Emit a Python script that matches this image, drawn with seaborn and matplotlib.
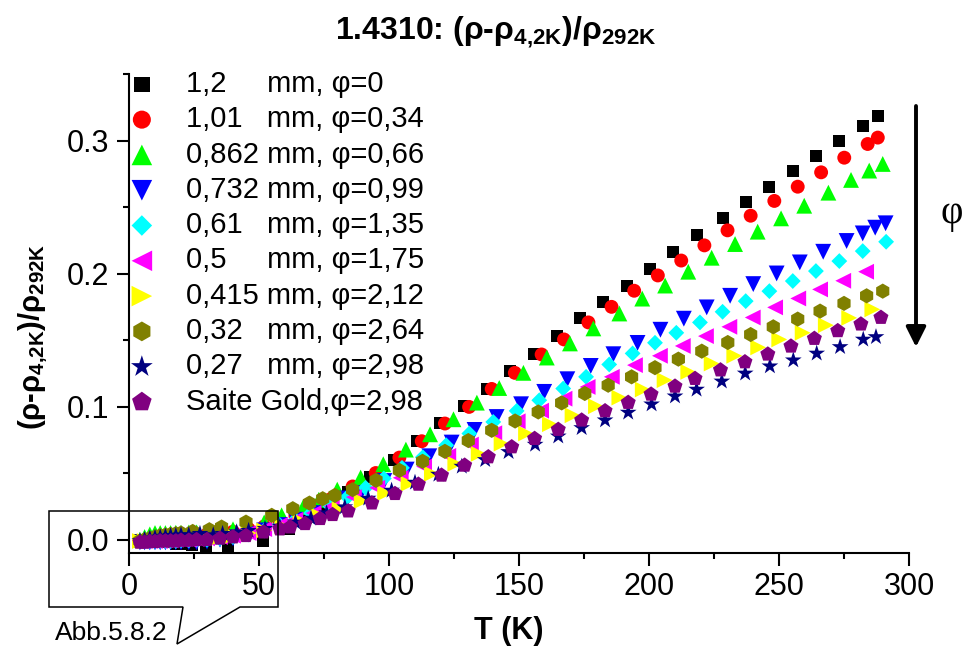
import matplotlib
matplotlib.use("Agg")
import matplotlib.pyplot as plt
from matplotlib.patches import Polygon
from matplotlib.ticker import MultipleLocator, FormatStrFormatter
import seaborn as sns

sns.set_style("ticks")
plt.rcParams['font.family'] = ['Liberation Sans', 'DejaVu Sans']
plt.rcParams['mathtext.fontset'] = 'custom'
plt.rcParams['mathtext.rm'] = 'Liberation Sans:bold'
plt.rcParams['mathtext.it'] = 'Liberation Sans:bold'
plt.rcParams['mathtext.bf'] = 'Liberation Sans:bold'
for key in ("text.color", "axes.labelcolor", "xtick.color", "ytick.color", "axes.edgecolor"):
    plt.rcParams[key] = "black"

# ---- data: relative resistivity increase vs temperature ----
labels = [
    "1,2     mm, φ=0",
    "1,01   mm, φ=0,34",
    "0,862 mm, φ=0,66",
    "0,732 mm, φ=0,99",
    "0,61   mm, φ=1,35",
    "0,5     mm, φ=1,75",
    "0,415 mm, φ=2,12",
    "0,32   mm, φ=2,64",
    "0,27   mm, φ=2,98",
    "Saite Gold,φ=2,98",
]

T_12 = [4.2, 6, 8, 10, 12, 14, 16, 18, 20, 24.4, 29.5, 38.2, 51.4, 61.5, 68, 75, 84.3, 92.7,
        101.8, 110.6, 119.6, 128.8, 137.6, 146.5, 155.8, 164.5, 173.5, 182.4, 191.4, 200.4,
        209.3, 218.3, 228.3, 237.3, 246.3, 255.3, 264.2, 273.2, 282.2, 288.0]
r_12 = [0.0, -0.001, -0.001, -0.001, -0.002, -0.002, -0.002, -0.003, -0.003, -0.0043, -0.005,
        -0.005, -0.001, 0.0078, 0.016, 0.025, 0.0358, 0.0471, 0.0602, 0.074, 0.0877, 0.1003,
        0.1133, 0.1266, 0.1394, 0.1530, 0.1663, 0.1786, 0.1908, 0.2036, 0.2162, 0.2292, 0.2415,
        0.2536, 0.2653, 0.2771, 0.2884, 0.2999, 0.3112, 0.3187]

T_101 = [4.2, 6, 8, 10, 12, 14, 16, 18, 20, 25, 30, 35, 40, 46, 52, 58, 64, 71, 78, 86, 94.9,
         104, 112.6, 121.5, 130.8, 139.5, 148.4, 158.7, 167.3, 176.7, 185.6, 194.3, 203.4,
         212.4, 221.3, 230.2, 239.1, 248.2, 257.2, 266.2, 275.1, 284.1, 288.0]
r_101 = [-0.001, -0.001, 0.0, 0.0, 0.0005, 0.001, 0.0015, 0.002, 0.0025, 0.003, 0.004, 0.005,
         0.006, 0.008, 0.010, 0.013, 0.018, 0.024, 0.031, 0.040, 0.0501, 0.0617, 0.074, 0.0873,
         0.0998, 0.1133, 0.1254, 0.1392, 0.1505, 0.1633, 0.175, 0.1871, 0.1986, 0.2098, 0.2212,
         0.2325, 0.2435, 0.2546, 0.2653, 0.2761, 0.2871, 0.2974, 0.3022]

T_0862 = [4.2, 6, 8, 10, 12, 14, 16, 18, 20, 23, 26, 30, 35, 40, 46, 52, 58.7, 67, 73, 80.1,
          89.1, 97.8, 106.5, 115.8, 124.8, 133.8, 142.4, 151.7, 160.7, 169.6, 178.6, 188.6,
          197.4, 206.2, 215.1, 224.1, 233.1, 241.8, 250.8, 259.7, 269, 277.7, 284.7, 289.9]
r_0862 = [0.0, 0.002, 0.004, 0.005, 0.005, 0.005, 0.005, 0.0052, 0.0052, 0.0054, 0.0055,
          0.0056, 0.0065, 0.0078, 0.010, 0.013, 0.0183, 0.0245, 0.030, 0.0376, 0.0467, 0.0567,
          0.0677, 0.0792, 0.0905, 0.1030, 0.1140, 0.1254, 0.1369, 0.1475, 0.1588, 0.17, 0.1812,
          0.1910, 0.2014, 0.2119, 0.2222, 0.2315, 0.2415, 0.251, 0.2608, 0.2704, 0.2774, 0.2824]

T_0732 = [4.2, 6, 8, 10, 12, 14, 16, 18, 20, 23, 26, 30, 35, 40, 46, 52, 58, 64, 71, 78, 84,
          89.2, 98.2, 106.8, 115.5, 124.1, 132.9, 141.4, 150.8, 159.7, 168.6, 177.6, 186.3,
          195.6, 204.4, 213.4, 222.2, 231.2, 240.1, 249.1, 258, 267, 276, 282.2, 287, 291]
r_0732 = [-0.002, -0.002, -0.002, -0.002, -0.002, -0.002, -0.002, -0.002, -0.002, -0.002,
          -0.002, -0.0015, 0.0, 0.001, 0.004, 0.007, 0.011, 0.015, 0.020, 0.026, 0.031, 0.0351,
          0.0441, 0.0527, 0.0627, 0.0730, 0.0825, 0.0922, 0.1018, 0.1111, 0.1206, 0.1306,
          0.1394, 0.1479, 0.1578, 0.1661, 0.1746, 0.1833, 0.1921, 0.2001, 0.2084, 0.2164,
          0.2245, 0.2302, 0.2345, 0.2378]

T_061 = [4.2, 6, 8, 10, 12, 14, 16, 18, 20, 23, 26, 30, 35, 40, 46, 52, 58, 64, 70, 77, 84,
         91, 98, 105, 113, 122, 130.9, 140.1, 149.1, 157.8, 167, 175.8, 184.7, 193.7, 202.3,
         210.5, 219.6, 228.3, 237.2, 246.3, 255.3, 264.2, 273.2, 282.2, 291.2]
r_061 = [-0.001, -0.001, -0.001, -0.001, -0.001, -0.001, -0.001, -0.001, -0.0005, -0.0005,
         0.0, 0.0, 0.001, 0.002, 0.004, 0.007, 0.011, 0.015, 0.020, 0.026, 0.032, 0.039, 0.046,
         0.054, 0.062, 0.071, 0.0798, 0.0885, 0.0968, 0.1048, 0.1136, 0.1224, 0.1317, 0.14,
         0.148, 0.1555, 0.1633, 0.1713, 0.1793, 0.1868, 0.1944, 0.2019, 0.2094, 0.2169, 0.2239]

T_05 = [4.2, 6, 8, 10, 12, 14, 16, 18, 20, 23, 26, 30, 35, 40, 46, 52, 58, 64, 71, 78, 86.5,
        95.5, 104.5, 113.5, 122.8, 131.5, 140.5, 149.5, 158.5, 167.5, 176.4, 185.7, 194.6,
        204.2, 213, 221.9, 230.9, 239.9, 248.5, 257.4, 265.8, 274.7, 283.5]
r_05 = [-0.001, -0.001, -0.001, -0.001, -0.001, -0.0005, -0.0005, 0.0, 0.0, 0.0, 0.0005,
        0.001, 0.002, 0.003, 0.005, 0.008, 0.011, 0.015, 0.020, 0.025, 0.032, 0.039, 0.0465,
        0.055, 0.063, 0.0715, 0.080, 0.089, 0.097, 0.106, 0.1148, 0.1224, 0.1312, 0.1382,
        0.1456, 0.153, 0.16, 0.167, 0.1746, 0.1813, 0.1881, 0.1946, 0.2014]

T_0415 = [4.2, 6, 8, 10, 12, 14, 16, 18, 20, 23, 26, 30, 35, 40, 46, 52, 59, 66, 73, 81,
          89.5, 98.5, 107.5, 116.5, 125.5, 134.5, 143.3, 152.7, 161.9, 170.6, 179.6, 188.6,
          197.6, 206, 215.1, 224.1, 232.8, 242, 250.1, 259.1, 268, 277, 285.9]
r_0415 = [-0.001, -0.001, -0.001, -0.0005, -0.0005, 0.0, 0.0, 0.0, 0.0005, 0.001, 0.001,
          0.0015, 0.002, 0.003, 0.005, 0.007, 0.010, 0.014, 0.018, 0.023, 0.029, 0.035, 0.042,
          0.0495, 0.057, 0.0645, 0.0722, 0.0798, 0.0868, 0.0935, 0.1003, 0.1068, 0.1129, 0.1199,
          0.1261, 0.1324, 0.1382, 0.1445, 0.1505, 0.1555, 0.1612, 0.1667, 0.1731]

T_032 = [4.2, 6, 8, 10, 12, 14, 16, 18, 20, 24.5, 30.9, 35.6, 45, 54.9, 63, 69.4, 74.5, 79.2,
         86, 95, 104, 112.9, 121.5, 130.5, 139.5, 148.5, 157.4, 166.4, 175.3, 184.3, 193.3,
         202.3, 211.3, 220.3, 230.3, 239.1, 247.8, 257.2, 265.8, 275, 283.7, 289.9]
r_032 = [-0.001, 0.0, 0.001, 0.002, 0.003, 0.0035, 0.004, 0.0045, 0.005, 0.0062, 0.0075,
         0.0095, 0.0132, 0.0183, 0.0233, 0.0275, 0.0308, 0.0333, 0.0376, 0.0446, 0.0521,
         0.0589, 0.0664, 0.0745, 0.0822, 0.0892, 0.096, 0.1028, 0.1099, 0.1161, 0.1224, 0.1293,
         0.1357, 0.1417, 0.1482, 0.1542, 0.16, 0.1658, 0.1718, 0.1776, 0.1833, 0.1868]

T_027 = [4.2, 6, 8, 10, 12, 14, 16, 18, 20, 23, 27.3, 32.4, 36, 41.4, 46, 52.3, 58, 64, 70,
         76, 83, 92, 101, 110, 119, 128, 137, 146, 156.2, 165.1, 174.1, 183.1, 192, 201, 210,
         218.3, 228, 237, 246.5, 255.5, 264.5, 273.5, 282.4, 287.3]
r_027 = [-0.001, 0.0, 0.001, 0.0015, 0.002, 0.0025, 0.003, 0.003, 0.0035, 0.0035, 0.0045,
         0.0035, 0.0045, 0.0057, 0.0068, 0.0083, 0.010, 0.013, 0.016, 0.020, 0.0245, 0.031,
         0.037, 0.043, 0.049, 0.055, 0.060, 0.066, 0.0715, 0.0777, 0.084, 0.0898, 0.0956,
         0.1018, 0.1078, 0.1129, 0.119, 0.125, 0.1304, 0.1349, 0.14, 0.1449, 0.1505, 0.1524]

T_gold = [4.2, 6, 8, 10, 12, 14, 16, 18, 20, 23, 26, 30, 35, 40, 45, 51.7, 58, 62, 67.7,
          73.5, 78.3, 84.3, 93.4, 102.3, 111.3, 120.2, 129.1, 138.2, 147.2, 156, 165.1, 174.1,
          183.1, 192, 200.8, 210, 217.7, 227.5, 236.9, 245.7, 254.6, 263.6, 272.6, 281.5, 289.2]
r_gold = [-0.002, -0.002, -0.0015, -0.0015, -0.001, -0.001, -0.001, -0.001, -0.0005, -0.0005,
          0.0, 0.0, 0.001, 0.002, 0.003, 0.0057, 0.008, 0.0095, 0.012, 0.0158, 0.0188, 0.0215,
          0.0275, 0.0346, 0.0416, 0.0484, 0.0559, 0.0622, 0.0697, 0.076, 0.0828, 0.0898, 0.0968,
          0.1031, 0.1093, 0.1153, 0.1211, 0.1275, 0.1336, 0.1394, 0.1454, 0.1512, 0.157, 0.162,
          0.167]

temps = [T_12, T_101, T_0862, T_0732, T_061, T_05, T_0415, T_032, T_027, T_gold]
values = [r_12, r_101, r_0862, r_0732, r_061, r_05, r_0415, r_032, r_027, r_gold]

colors = ["#000000", "#FF0000", "#00FF00", "#0000FF", "#00FFFF",
          "#FF00FF", "#FFFF00", "#808000", "#000080", "#800080"]
markers = ["s", "o", "^", "v", "D", "<", ">", "h", "*", "p"]
sizes = [75, 100, 130, 130, 65, 130, 130, 120, 160, 130]

W, H = 967, 655
fig = plt.figure(figsize=(W / 100, H / 100), dpi=100)
ax = fig.add_axes([129 / W, 1 - 553 / H, 780 / W, 479 / H])

for T, r, lab, c, m, s in zip(temps, values, labels, colors, markers, sizes):
    sns.scatterplot(x=T, y=r, ax=ax, color=c, marker=m, s=s, linewidth=0,
                    edgecolor="none", label=lab, clip_on=False)

ax.set_xlim(0, 300)
ax.set_ylim(-0.01, 0.35)
ax.xaxis.set_major_locator(MultipleLocator(50))
ax.xaxis.set_minor_locator(MultipleLocator(25))
ax.yaxis.set_major_locator(MultipleLocator(0.1))
ax.yaxis.set_minor_locator(MultipleLocator(0.05))
ax.yaxis.set_major_formatter(FormatStrFormatter("%.1f"))
ax.tick_params(which="major", direction="out", length=9, width=1.5, labelsize=22, pad=5)
ax.tick_params(which="minor", direction="out", length=4.5, width=1.5)
sns.despine(ax=ax)
for side in ("left", "bottom"):
    ax.spines[side].set_linewidth(1.5)
    ax.spines[side].set_color("black")
ax.grid(False)

ax.set_xlabel("T (K)", fontsize=22, fontweight="bold")
ax.xaxis.set_label_coords((509 - 129) / 780, (553 - 616) / 479)
ax.set_ylabel("(ρ-ρ$_{4{,}2K}$)/ρ$_{292K}$", fontsize=21, fontweight="bold")
ax.yaxis.set_label_coords((50 - 129) / 780, (553 - 337) / 479)

fig.text(496 / W, 1 - 32 / H, "1.4310: (ρ-ρ$_{4{,}2K}$)/ρ$_{292K}$",
         ha="center", va="center", fontsize=23, fontweight="bold")

leg = ax.legend(loc="upper left", bbox_to_anchor=(128 / W, 1 - 70 / H),
                bbox_transform=fig.transFigure, frameon=False, fontsize=21,
                handlelength=0.95, handletextpad=1.05, labelspacing=0.25,
                borderpad=0, borderaxespad=0, markerscale=1.3)

# downward arrow indicating increasing deformation
ax.annotate("", xy=(916 / W, 1 - 347 / H), xytext=(916 / W, 1 - 106 / H),
            xycoords="figure fraction", textcoords="figure fraction",
            arrowprops=dict(arrowstyle="-|>", lw=2.8, color="black", mutation_scale=30,
                            shrinkA=0, shrinkB=0))
fig.text(952 / W, 1 - 214 / H, "φ", ha="center", va="center", fontsize=28,
         family="Liberation Serif")

# callout box around the low-temperature region
pts = [(49, 511), (278, 511), (278, 607), (240, 607), (177, 644), (183, 607), (49, 607)]
fig.add_artist(Polygon([(x / W, 1 - y / H) for x, y in pts], closed=True, fill=False,
                       edgecolor="black", linewidth=1.1, transform=fig.transFigure))
fig.text(55 / W, 1 - 633 / H, "Abb.5.8.2", ha="left", va="center", fontsize=19)

fig.savefig("out.png", dpi=100)
